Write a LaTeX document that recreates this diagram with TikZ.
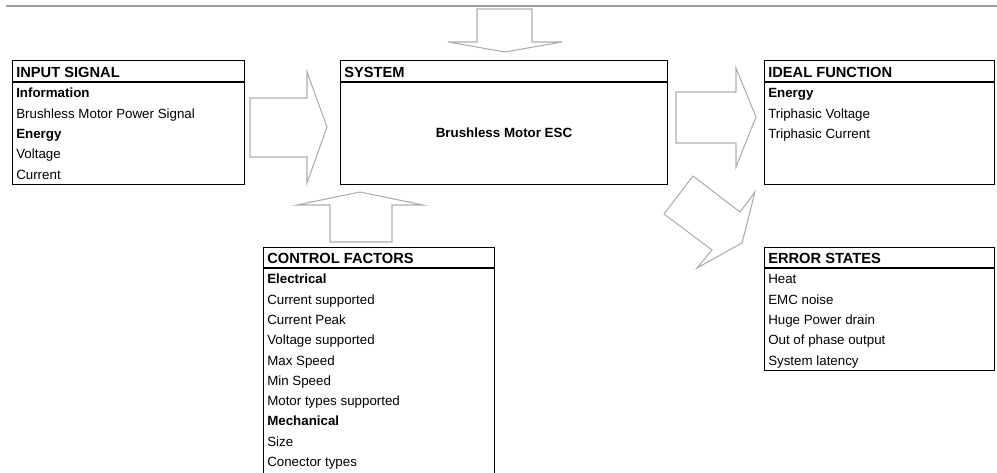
\documentclass[tikz,border=0pt]{standalone}
\usepackage{fontspec}
\setmainfont{Liberation Sans}
\begin{document}
\begin{tikzpicture}[x=0.75pt,y=-0.75pt,
  box/.style={draw=black, line width=1.1pt, inner sep=0pt, anchor=north west},
  sepline/.style={draw=black, line width=1.1pt},
  hdr/.style={anchor=base west, inner sep=0pt, font=\fontsize{11}{13}\selectfont\bfseries},
  itm/.style={anchor=base west, inner sep=0pt, font=\fontsize{10}{12}\selectfont},
  itb/.style={anchor=base west, inner sep=0pt, font=\fontsize{10}{12}\selectfont\bfseries},
  blockarrow/.style={draw=black!32, line width=0.8pt, line join=miter},
  topline/.style={draw=black!38, line width=1.4pt}]
\useasboundingbox (0,0) rectangle (997,472);

% top rule
\coordinate (tl) at (6,6);
\coordinate (tr) at (997,6);
\draw[topline] (tl) -- (tr);

% boxes
\node[box, minimum width=174pt, minimum height=93pt] (input) at (12,60) {};
\draw[sepline] (12,82) -- (244,82);
\node[box, minimum width=245.25pt, minimum height=93pt] (system) at (340,60) {};
\draw[sepline] (340,82) -- (667,82);
\node[box, minimum width=172.5pt, minimum height=93pt] (ideal) at (764,60) {};
\draw[sepline] (764,82) -- (994,82);
\node[box, minimum width=173.25pt, minimum height=172pt] (control) at (263,247) {};
\draw[sepline] (263,268) -- (494,268);
\node[box, minimum width=172.5pt, minimum height=92.25pt] (error) at (764,247) {};
\draw[sepline] (764,268) -- (994,268);

% input signal texts
\node[hdr] (inh) at (16,77) {INPUT SIGNAL};
\node[itb] (in1) at (16,97.8) {Information};
\node[itm] (in2) at (16,118.1) {Brushless Motor Power Signal};
\node[itb] (in3) at (16,138.4) {Energy};
\node[itm] (in4) at (16,158.7) {Voltage};
\node[itm] (in5) at (16,179) {Current};

% system
\node[hdr] (sysh) at (344,77) {SYSTEM};
\node[itb, anchor=base] (sys1) at (504,137.8) {Brushless Motor ESC};

% ideal function
\node[hdr] (idh) at (768,77) {IDEAL FUNCTION};
\node[itb] (id1) at (768,97.8) {Energy};
\node[itm] (id2) at (768,118.1) {Triphasic Voltage};
\node[itm] (id3) at (768,138.4) {Triphasic Current};

% control factors
\node[hdr] (cfh) at (267,263) {CONTROL FACTORS};
\node[itb] (cf1) at (267,283.8) {Electrical};
\node[itm] (cf2) at (267,304.1) {Current supported};
\node[itm] (cf3) at (267,324.4) {Current Peak};
\node[itm] (cf4) at (267,344.7) {Voltage supported};
\node[itm] (cf5) at (267,365) {Max Speed};
\node[itm] (cf6) at (267,385.3) {Min Speed};
\node[itm] (cf7) at (267,405.6) {Motor types supported};
\node[itb] (cf8) at (267,425.9) {Mechanical};
\node[itm] (cf9) at (267,446.2) {Size};
\node[itm] (cf10) at (267,466.5) {Conector types};

% error states
\node[hdr] (erh) at (768,263) {ERROR STATES};
\node[itm] (er1) at (768,283.8) {Heat};
\node[itm] (er2) at (768,304.1) {EMC noise};
\node[itm] (er3) at (768,324.4) {Huge Power drain};
\node[itm] (er4) at (768,344.7) {Out of phase output};
\node[itm] (er5) at (768,365) {System latency};

% block arrows
% top (into system)
\draw[blockarrow] (477,9) -- (532,9) -- (532,42) -- (562,42) -- (505,52) -- (448,42) -- (477,42) -- cycle;
% input -> system
\draw[blockarrow] (250,98) -- (307,98) -- (307,72) -- (327,127) -- (307,183) -- (307,157) -- (250,157) -- cycle;
% system -> ideal function
\draw[blockarrow] (676,92) -- (736,92) -- (736,68) -- (756,117) -- (736,167) -- (736,143) -- (676,143) -- cycle;
% control -> system
\draw[blockarrow] (330,242) -- (330,205) -- (297,205) -- (360,192) -- (423,205) -- (392,205) -- (392,242) -- cycle;
% system -> error states (diagonal)
\draw[blockarrow] (693,176) -- (740,212) -- (755,192) -- (742,243) -- (697,268) -- (712,250) -- (664,214) -- cycle;
\end{tikzpicture}
\end{document}
